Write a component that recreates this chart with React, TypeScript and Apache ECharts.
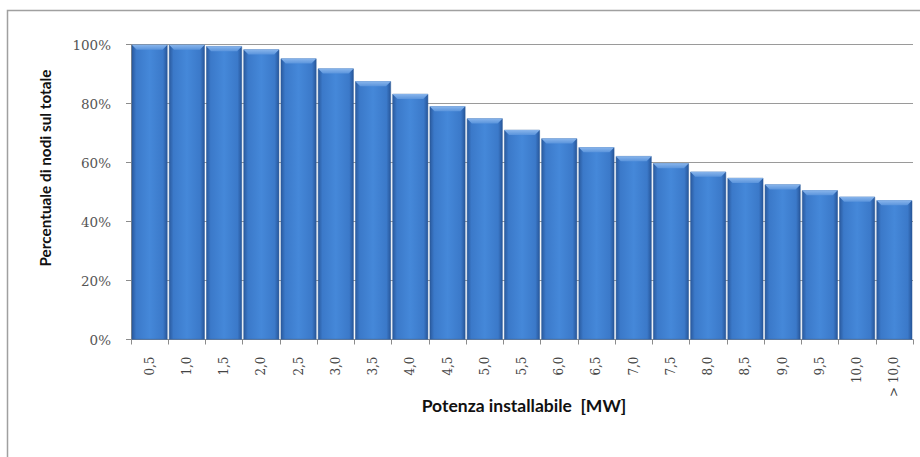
import React, { useEffect, useRef } from "react";
import * as echarts from "echarts";

const categories = ["0,5", "1,0", "1,5", "2,0", "2,5", "3,0", "3,5", "4,0", "4,5", "5,0", "5,5", "6,0", "6,5", "7,0", "7,5", "8,0", "8,5", "9,0", "9,5", "10,0", "> 10,0"];
const values = [100, 100, 99.5, 98.4, 95.3, 91.9, 87.6, 83.3, 79.1, 75.0, 71.1, 68.2, 65.2, 62.2, 59.8, 56.9, 54.8, 52.6, 50.6, 48.4, 47.2];
const yTicks = [0, 20, 40, 60, 80, 100];

export default function App() {
  const ref = useRef<HTMLDivElement>(null);
  useEffect(() => {
    document.body.style.margin = "0";
    const chart = echarts.init(ref.current!, null, { renderer: "svg" });
    chart.setOption({
      animation: false,
      backgroundColor: "#ffffff",
      grid: { left: 131, right: 7, top: 44.7, bottom: 117.5, containLabel: false },
      graphic: [
        {
          type: "polyline",
          shape: { points: [[7.5, 460], [7.5, 10.5], [925, 10.5]] },
          style: { stroke: "#a0a0a0", lineWidth: 1.5, fill: "none" },
          silent: true,
        },
        {
          type: "text",
          x: 45,
          y: 168,
          rotation: Math.PI / 2,
          style: {
            text: "Percentuale di nodi sul totale",
            font: "bold 15.3px Lato",
            fill: "#111",
            align: "center",
            verticalAlign: "middle",
          },
        },
        {
          type: "text",
          x: 524,
          y: 405,
          style: {
            text: "Potenza installabile  [MW]",
            font: "bold 17.5px Lato",
            fill: "#111",
            align: "center",
            verticalAlign: "middle",
          },
        },
      ],
      xAxis: {
        type: "category",
        data: categories,
        axisLine: { lineStyle: { color: "#8c8c8c", width: 1 } },
        axisTick: { show: true, length: 5, lineStyle: { color: "#8c8c8c" } },
        axisLabel: {
          rotate: 90,
          margin: 17,
          color: "#444",
          fontFamily: "DejaVu Serif",
          fontSize: 12,
          interval: 0,
        },
      },
      yAxis: {
        type: "value",
        min: 0,
        max: 100,
        interval: 20,
        axisLine: { show: true, lineStyle: { color: "#8c8c8c", width: 1 } },
        axisTick: { show: true, length: 5, lineStyle: { color: "#8c8c8c" } },
        splitLine: { show: true, lineStyle: { color: "#9a9a9a", width: 1 } },
        axisLabel: {
          margin: 20,
          color: "#555",
          fontFamily: "DejaVu Serif",
          fontSize: 13.5,
          formatter: (v: number) => (yTicks.includes(v) ? v + "%" : ""),
        },
      },
      series: [
        {
          type: "bar",
          data: values,
          barCategoryGap: "4%",
          itemStyle: {
            color: new echarts.graphic.LinearGradient(0, 0, 1, 0, [
              { offset: 0, color: "#2a5a9e" },
              { offset: 0.12, color: "#3b79c9" },
              { offset: 0.5, color: "#4588d9" },
              { offset: 0.88, color: "#3b79c9" },
              { offset: 1, color: "#27569a" },
            ]),
            borderColor: "#2b5a98",
            borderWidth: 0.5,
          },
        },
        {
          type: "custom",
          data: values.map((v, i) => [i, v]),
          z: 5,
          silent: true,
          renderItem: (params: any, api: any) => {
            const p = api.coord([api.value(0), api.value(1)]);
            const w = api.size([1, 0])[0] * 0.96;
            const x0 = p[0] - w / 2;
            const x1 = p[0] + w / 2;
            const y = p[1];
            const d = 5;
            return {
              type: "polygon",
              shape: { points: [[x0, y], [x1, y], [x1 - d, y + d], [x0 + d, y + d]] },
              style: {
                fill: new echarts.graphic.LinearGradient(0, 0, 0, 1, [
                  { offset: 0, color: "#8ab6ec" },
                  { offset: 1, color: "#5a94dc" },
                ]),
                stroke: null,
              },
            };
          },
        },
      ],
    });
    return () => chart.dispose();
  }, []);
  return <div ref={ref} style={{ width: 920, height: 457 }} />;
}
